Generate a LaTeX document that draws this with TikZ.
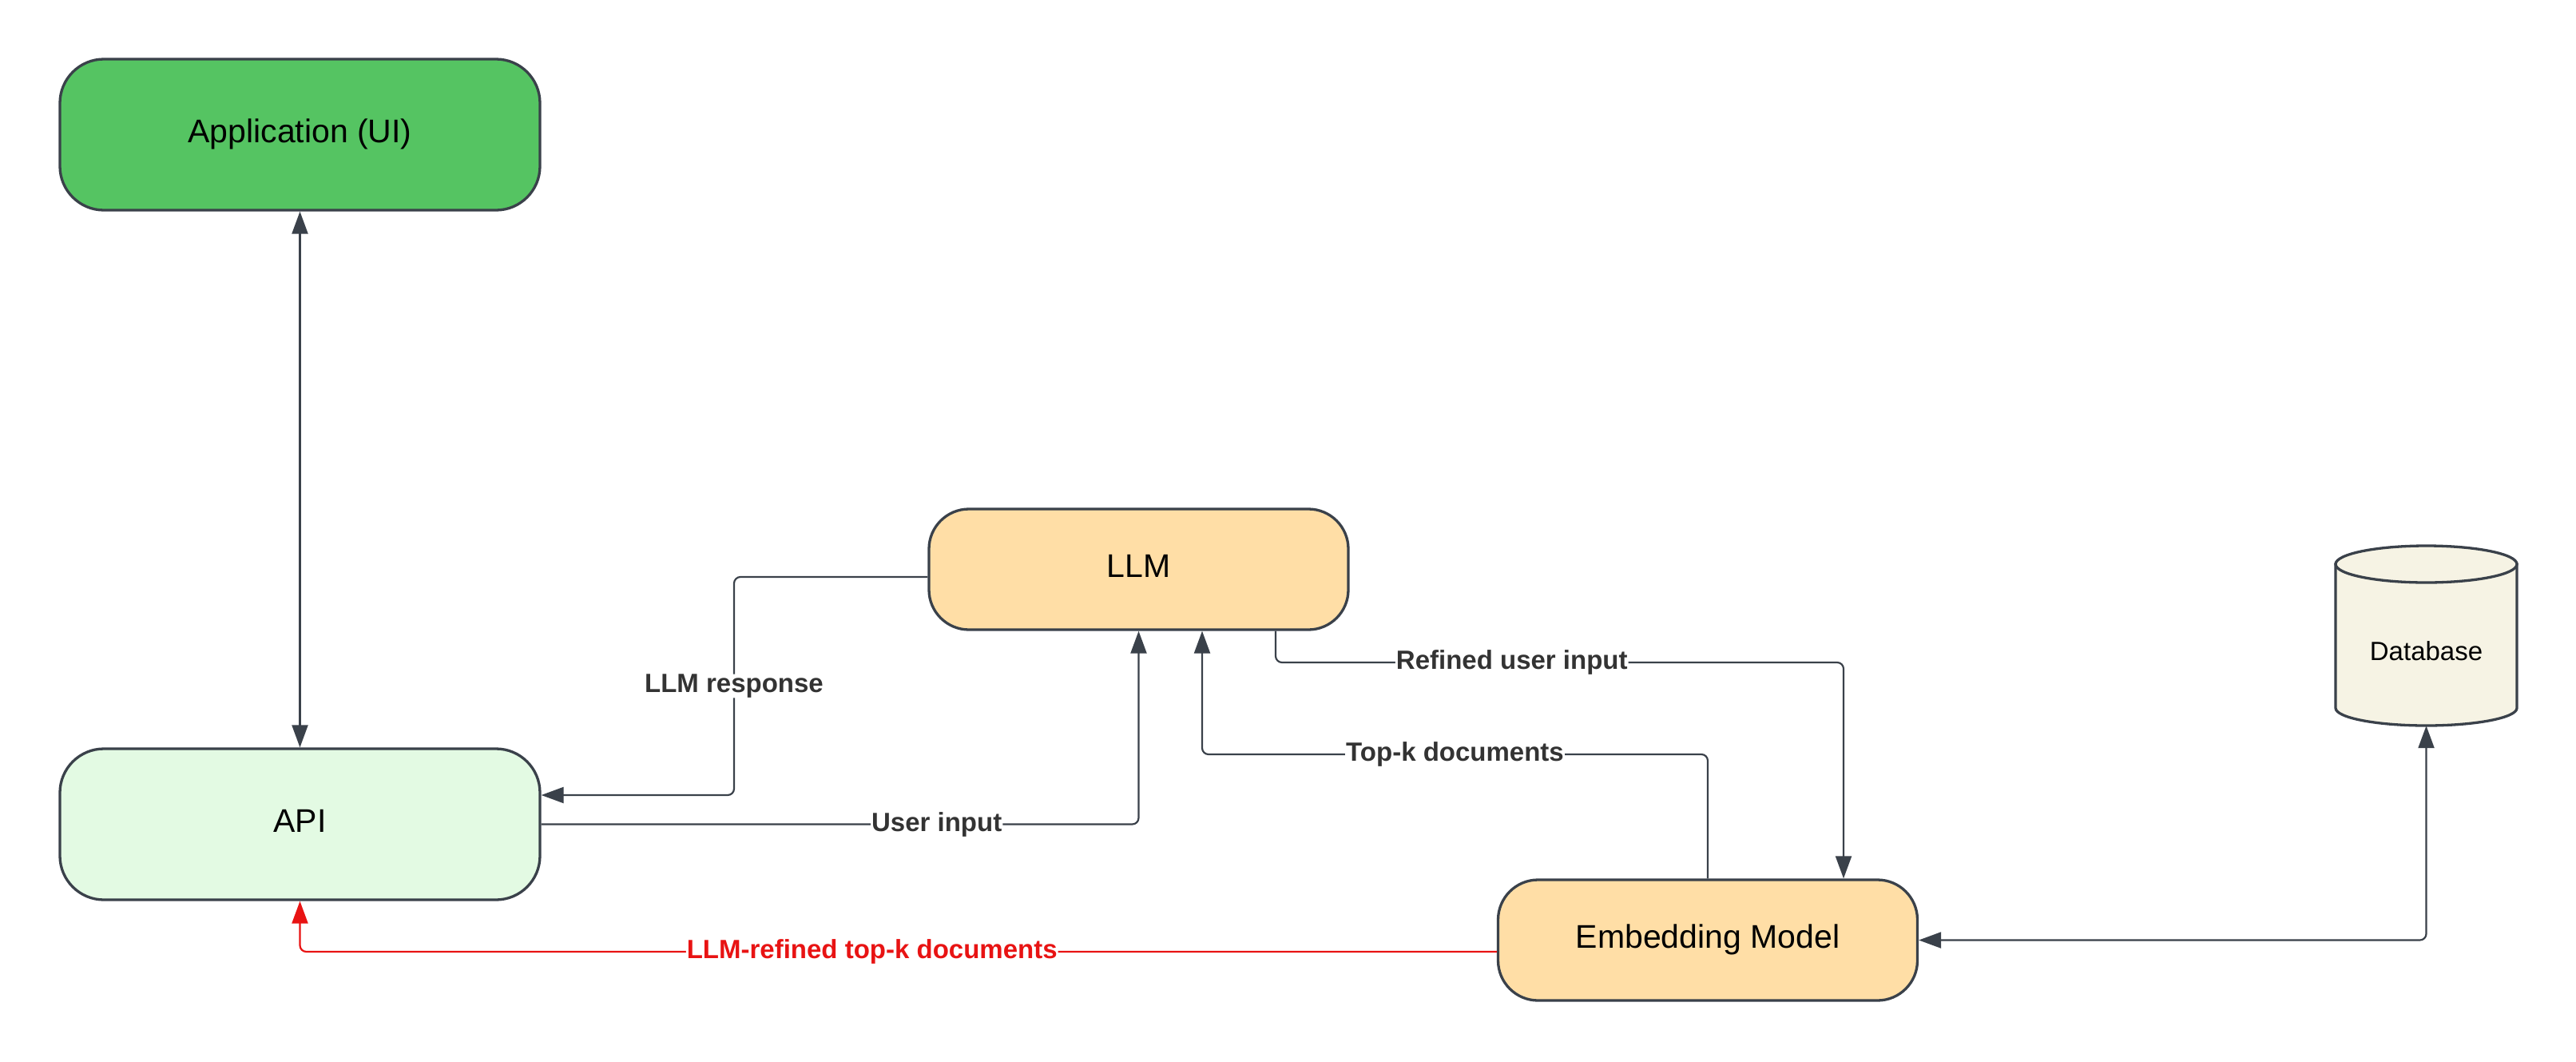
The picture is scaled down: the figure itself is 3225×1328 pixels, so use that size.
\documentclass[tikz,border=0pt]{standalone}
\usepackage{fontspec}
\setmainfont{Liberation Sans}
\usetikzlibrary{arrows.meta}
\definecolor{bordc}{HTML}{3A414A}
\definecolor{appfill}{HTML}{55C462}
\definecolor{apifill}{HTML}{E3FAE3}
\definecolor{orfill}{HTML}{FFDEA6}
\definecolor{dbfill}{HTML}{F6F3E4}
\definecolor{redc}{HTML}{E81313}
\definecolor{lblc}{HTML}{333333}
\begin{document}
\begin{tikzpicture}[x=1pt,y=-1pt,
  box/.style={draw=bordc, line width=3.3pt, rounded corners=55pt, inner sep=0pt,
    font=\fontsize{41pt}{49pt}\selectfont, text=black, text height=30pt, text depth=10pt},
  bigbox/.style={box, minimum width=601pt, minimum height=189pt},
  smallbox/.style={box, fill=orfill, minimum width=525pt, minimum height=151pt, rounded corners=50pt},
  conn/.style={draw=bordc, line width=2.2pt, rounded corners=8pt},
  tip/.tip={Triangle[length=28pt, width=20pt]},
  lbl/.style={fill=white, inner xsep=1pt, inner ysep=0pt, text=lblc,
    font=\bfseries\fontsize{33pt}{40pt}\selectfont},
]
\useasboundingbox (0,0) rectangle (3225,1328);

% nodes
\node[bigbox, fill=appfill] (app) at (375.5,168.5) {Application (UI)};
\node[bigbox, fill=apifill] (api) at (375.5,1031.5) {API};
\node[smallbox] (llm) at (1425.5,712.5) {LLM};
\node[smallbox] (emb) at (2138,1176.5) {Embedding Model};

% database cylinder
\path[fill=dbfill, draw=bordc, line width=3.3pt]
  (2924,706) -- (2924,886)
  .. controls (2924,898.15) and (2974.8,908) .. (3037.5,908)
  .. controls (3100.2,908) and (3151,898.15) .. (3151,886)
  -- (3151,706) -- cycle;
\draw[fill=dbfill, draw=bordc, line width=3.3pt] (3037.5,706) ellipse [x radius=113.5, y radius=23];
\node[minimum width=227pt, minimum height=225pt, inner sep=0pt] (db) at (3037.5,795.5) {};
\node[font=\fontsize{33pt}{40pt}\selectfont, inner sep=0pt] (dbtext) at (3037.5,815) {Database};

% connectors
\draw[conn, tip-tip] (app.south) -- (api.north);

\draw[conn, -tip] (llm.west |- 0,722) -- (919,722)
  -- node[lbl]{LLM response} (919,995) -- (api.east |- 0,995);

\draw[conn, -tip] (api.east) -- node[lbl, pos=0.662]{User input} (api.east -| llm.south)
  -- (llm.south);

\draw[conn, -tip] (emb.north) -- (emb.north |- 0,944)
  -- node[lbl]{Top-k documents} (1505,944) -- (llm.south -| 1505,0);

\draw[conn, -tip] (llm.south -| 1597,0) -- (1597,829)
  -- node[lbl, pos=0.416]{Refined user input} (2308,829) -- (emb.north -| 2308,0);

\draw[conn, tip-tip] (db.south) |- (emb.east);

\draw[conn, draw=redc, -tip] (emb.west |- 0,1191)
  -- node[lbl, text=redc, pos=0.522]{LLM-refined top-k documents} (375.5,1191)
  -- (api.south);
\end{tikzpicture}
\end{document}
